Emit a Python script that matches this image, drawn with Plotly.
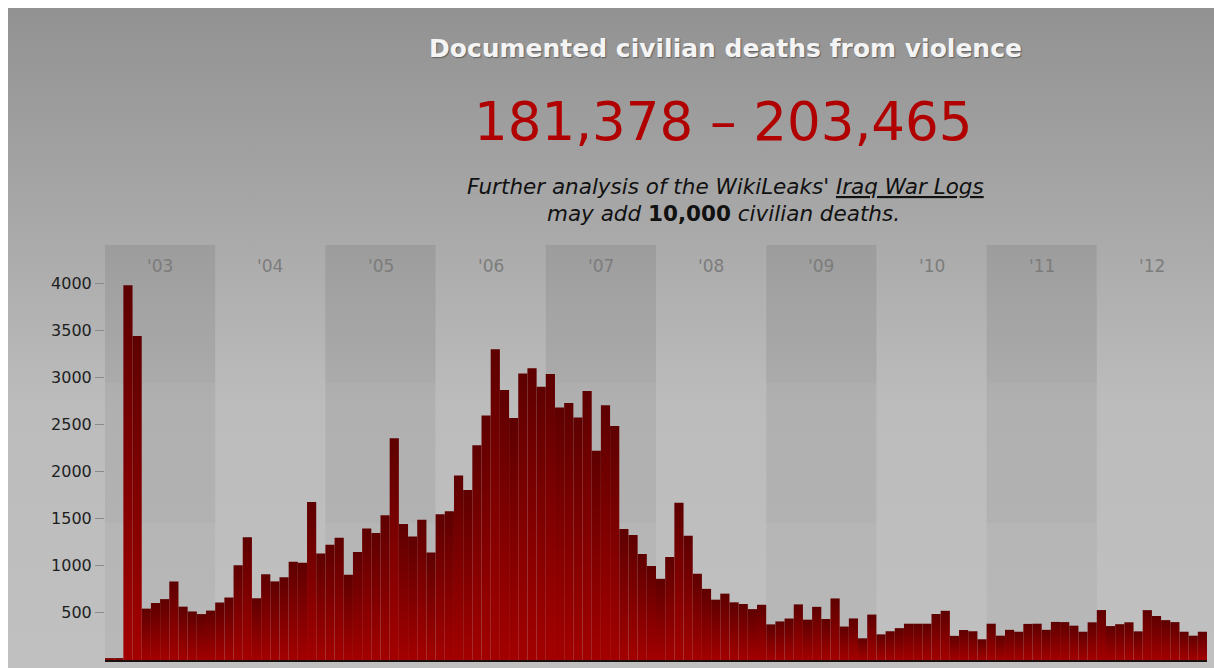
import base64
import plotly.graph_objects as go

# ---------------- data ----------------
years = ["'03", "'04", "'05", "'06", "'07", "'08", "'09", "'10", "'11", "'12"]
deaths_2003 = [20, 20, 3977, 3437, 545, 605, 646, 833, 566, 515, 487, 524]
deaths_2004 = [610, 663, 1004, 1303, 655, 910, 834, 878, 1042, 1033, 1676, 1129]
deaths_2005 = [1222, 1297, 905, 1145, 1396, 1347, 1536, 2352, 1444, 1311, 1487, 1141]
deaths_2006 = [1546, 1579, 1957, 1805, 2279, 2594, 3298, 2865, 2567, 3041, 3095, 2900]
deaths_2007 = [3035, 2680, 2728, 2573, 2854, 2219, 2702, 2483, 1391, 1326, 1124, 997]
deaths_2008 = [861, 1093, 1669, 1317, 915, 755, 640, 704, 612, 594, 540, 586]
deaths_2009 = [378, 409, 440, 590, 428, 564, 435, 653, 355, 441, 230, 482]
deaths_2010 = [272, 305, 338, 385, 385, 385, 488, 522, 256, 318, 305, 220]
deaths_2011 = [385, 258, 320, 300, 383, 385, 320, 404, 402, 364, 300, 400]
deaths_2012 = [530, 360, 380, 400, 304, 529, 467, 423, 402, 300, 258, 300]
ytick_vals = [500, 1000, 1500, 2000, 2500, 3000, 3500, 4000]

monthly = (deaths_2003 + deaths_2004 + deaths_2005 + deaths_2006 + deaths_2007 +
           deaths_2008 + deaths_2009 + deaths_2010 + deaths_2011 + deaths_2012)

W, H = 1214, 668
ML, MR, MT, MB = 105, 7, 245, 8
PW, PH = W - ML - MR, H - MT - MB


def px_x(px):
    return (px - ML) / PW


def px_y(py):
    return (H - MB - py) / PH


fig = go.Figure()

# bars: one gradient-filled column per month
for i, v in enumerate(monthly):
    fig.add_trace(go.Scatter(
        x=[i, i, i + 1, i + 1, i],
        y=[0, v, v, 0, 0],
        mode="lines",
        fill="toself",
        fillgradient=dict(type="vertical",
                          colorscale=[[0, "#a30000"], [1, "#5e0000"]]),
        line=dict(width=0, color="rgba(0,0,0,0)"),
        hoverinfo="skip",
        showlegend=False,
    ))

# page background gradient
svg = (
    '<svg xmlns="http://www.w3.org/2000/svg" width="1206" height="660" '
    'preserveAspectRatio="none" viewBox="0 0 1206 660">'
    '<defs><linearGradient id="g" x1="0" y1="0" x2="0" y2="1">'
    '<stop offset="0" stop-color="#929292"/>'
    '<stop offset="0.35" stop-color="#aaaaaa"/>'
    '<stop offset="0.6" stop-color="#bcbcbc"/>'
    '<stop offset="1" stop-color="#c0c0c0"/>'
    '</linearGradient></defs>'
    '<rect width="1206" height="660" fill="url(#g)"/></svg>'
)
src = "data:image/svg+xml;base64," + base64.b64encode(svg.encode()).decode()

shapes = []
for k in range(0, len(years), 2):
    shapes.append(dict(type="rect", xref="x", yref="paper",
                       x0=12 * k, x1=12 * k + 12, y0=0, y1=1,
                       fillcolor="rgba(0,0,0,0.04)", line=dict(width=0),
                       layer="below"))
    shapes.append(dict(type="rect", xref="x", yref="paper",
                       x0=12 * k, x1=12 * k + 12, y0=px_y(523), y1=1,
                       fillcolor="rgba(0,0,0,0.02)", line=dict(width=0),
                       layer="below"))
    shapes.append(dict(type="rect", xref="x", yref="paper",
                       x0=12 * k, x1=12 * k + 12, y0=px_y(383), y1=1,
                       fillcolor="rgba(0,0,0,0.015)", line=dict(width=0),
                       layer="below"))

annotations = []
for k, lab in enumerate(years):
    annotations.append(dict(x=12 * k + 6, y=px_y(266), xref="x", yref="paper",
                            yanchor="middle", text=lab, showarrow=False,
                            font=dict(family="DejaVu Sans", size=17, color="#7c7c7c")))

annotations += [
    dict(x=px_x(725), y=px_y(48), xref="paper", yref="paper", yanchor="middle",
         text="<b>Documented civilian deaths from violence</b>", showarrow=False,
         font=dict(family="DejaVu Sans", size=25, color="#f4f4f4",
                   shadow="1px 1px 1px rgba(60,60,60,0.6)")),
    dict(x=px_x(723.5), y=px_y(121), xref="paper", yref="paper", yanchor="middle",
         text="181,378 – 203,465", showarrow=False,
         font=dict(family="DejaVu Sans", size=53, color="#b00000")),
    dict(x=px_x(725), y=px_y(187), xref="paper", yref="paper", yanchor="middle",
         text="<i>Further analysis of the WikiLeaks' <u>Iraq War Logs</u></i>",
         showarrow=False,
         font=dict(family="DejaVu Sans", size=21.5, color="#111111")),
    dict(x=px_x(723), y=px_y(213), xref="paper", yref="paper", yanchor="middle",
         text="<i>may add </i><b>10,000</b><i> civilian deaths.</i>",
         showarrow=False,
         font=dict(family="DejaVu Sans", size=21.5, color="#111111")),
]

ymax = 4000 * PH / (660 - 283)

fig.update_layout(
    width=W, height=H,
    margin=dict(l=ML, r=MR, t=MT, b=MB, pad=0),
    paper_bgcolor="#ffffff",
    plot_bgcolor="rgba(0,0,0,0)",
    showlegend=False,
    shapes=shapes,
    annotations=annotations,
    images=[dict(source=src, xref="paper", yref="paper",
                 x=px_x(8), y=px_y(8), sizex=(W - 8) / PW, sizey=(H - 8) / PH,
                 xanchor="left", yanchor="top", sizing="stretch", layer="below")],
    xaxis=dict(range=[0, len(monthly)], showgrid=False, zeroline=False,
               showticklabels=False, ticks="", showline=True,
               linecolor="#1a1010", linewidth=2, fixedrange=True),
    yaxis=dict(range=[0, ymax], showgrid=False, zeroline=False,
               tickvals=ytick_vals, ticktext=[str(v) for v in ytick_vals],
               ticks="outside", ticklen=9, tickwidth=1, tickcolor="#8a8a8a",
               tickfont=dict(family="DejaVu Sans", size=16, color="#1e1e1e"),
               showline=False, fixedrange=True),
)

fig.write_html("out.html")
